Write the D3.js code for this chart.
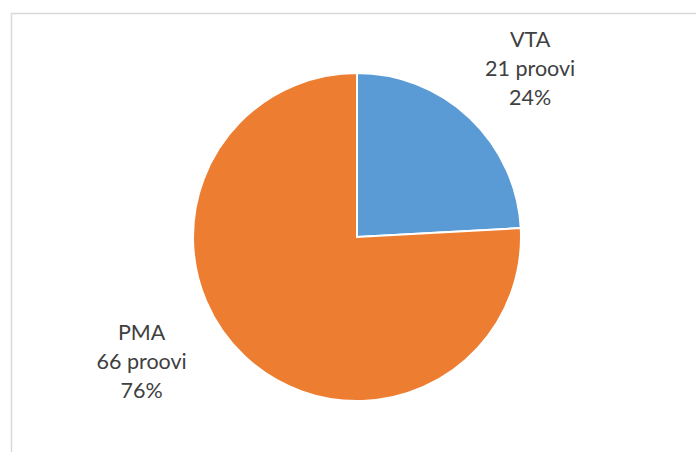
<!DOCTYPE html>
<html>
<head>
<meta charset="utf-8">
<script src="https://cdn.jsdelivr.net/npm/d3@7"></script>
<style>
  html, body { margin: 0; padding: 0; background: #fff; }
  svg { display: block; }
  text { font-family: Lato, "Open Sans", sans-serif; fill: #404040; }
</style>
</head>
<body>
<svg id="chart" width="696" height="452"></svg>
<script>
// Sample counts per method
const categories = ["VTA", "PMA"];
const counts = [21, 66];
const unitLabel = "proovi";
const colors = ["#5b9bd5", "#ed7d31"];

const width = 696, height = 452;
const cx = 357, cy = 237, radius = 164;

const svg = d3.select("#chart");

// Chart area frame
svg.append("rect")
  .attr("x", 11.5).attr("y", 13.5)
  .attr("width", width).attr("height", height)
  .attr("fill", "none")
  .attr("stroke", "#d9d9d9")
  .attr("stroke-width", 1.5);

const total = d3.sum(counts);
const data = categories.map((c, i) => ({ name: c, value: counts[i], color: colors[i] }));

const pie = d3.pie().sort(null).value(d => d.value);
const arc = d3.arc().innerRadius(0).outerRadius(radius);
const arcs = pie(data);

const g = svg.append("g").attr("transform", `translate(${cx},${cy})`);

g.selectAll("path.slice")
  .data(arcs)
  .join("path")
  .attr("class", "slice")
  .attr("d", arc)
  .attr("fill", d => d.data.color)
  .attr("stroke", "#fff")
  .attr("stroke-width", 2)
  .attr("stroke-linejoin", "miter");

// Labels sit outside the pie along each slice's direction
const labelAngle = { VTA: null, PMA: 4.18 }; // radians from 12 o'clock; null = slice midpoint
const lineHeight = 29;

arcs.forEach(d => {
  const a = labelAngle[d.data.name] ?? (d.startAngle + d.endAngle) / 2;
  const r = d.data.name === "VTA" ? 243 : 250;
  const x = Math.sin(a) * r + (d.data.name === "VTA" ? 6 : 0);
  const y = -Math.cos(a) * r + (d.data.name === "VTA" ? 8 : -2);
  const pct = Math.round(d.data.value / total * 100) + "%";
  const lines = [d.data.name, `${d.data.value} ${unitLabel}`, pct];
  const t = g.append("text")
    .attr("text-anchor", "middle")
    .attr("font-size", 21.5);
  lines.forEach((ln, i) => {
    t.append("tspan")
      .attr("x", x)
      .attr("y", y + (i - 1) * lineHeight + 7)
      .text(ln);
  });
});
</script>
</body>
</html>
